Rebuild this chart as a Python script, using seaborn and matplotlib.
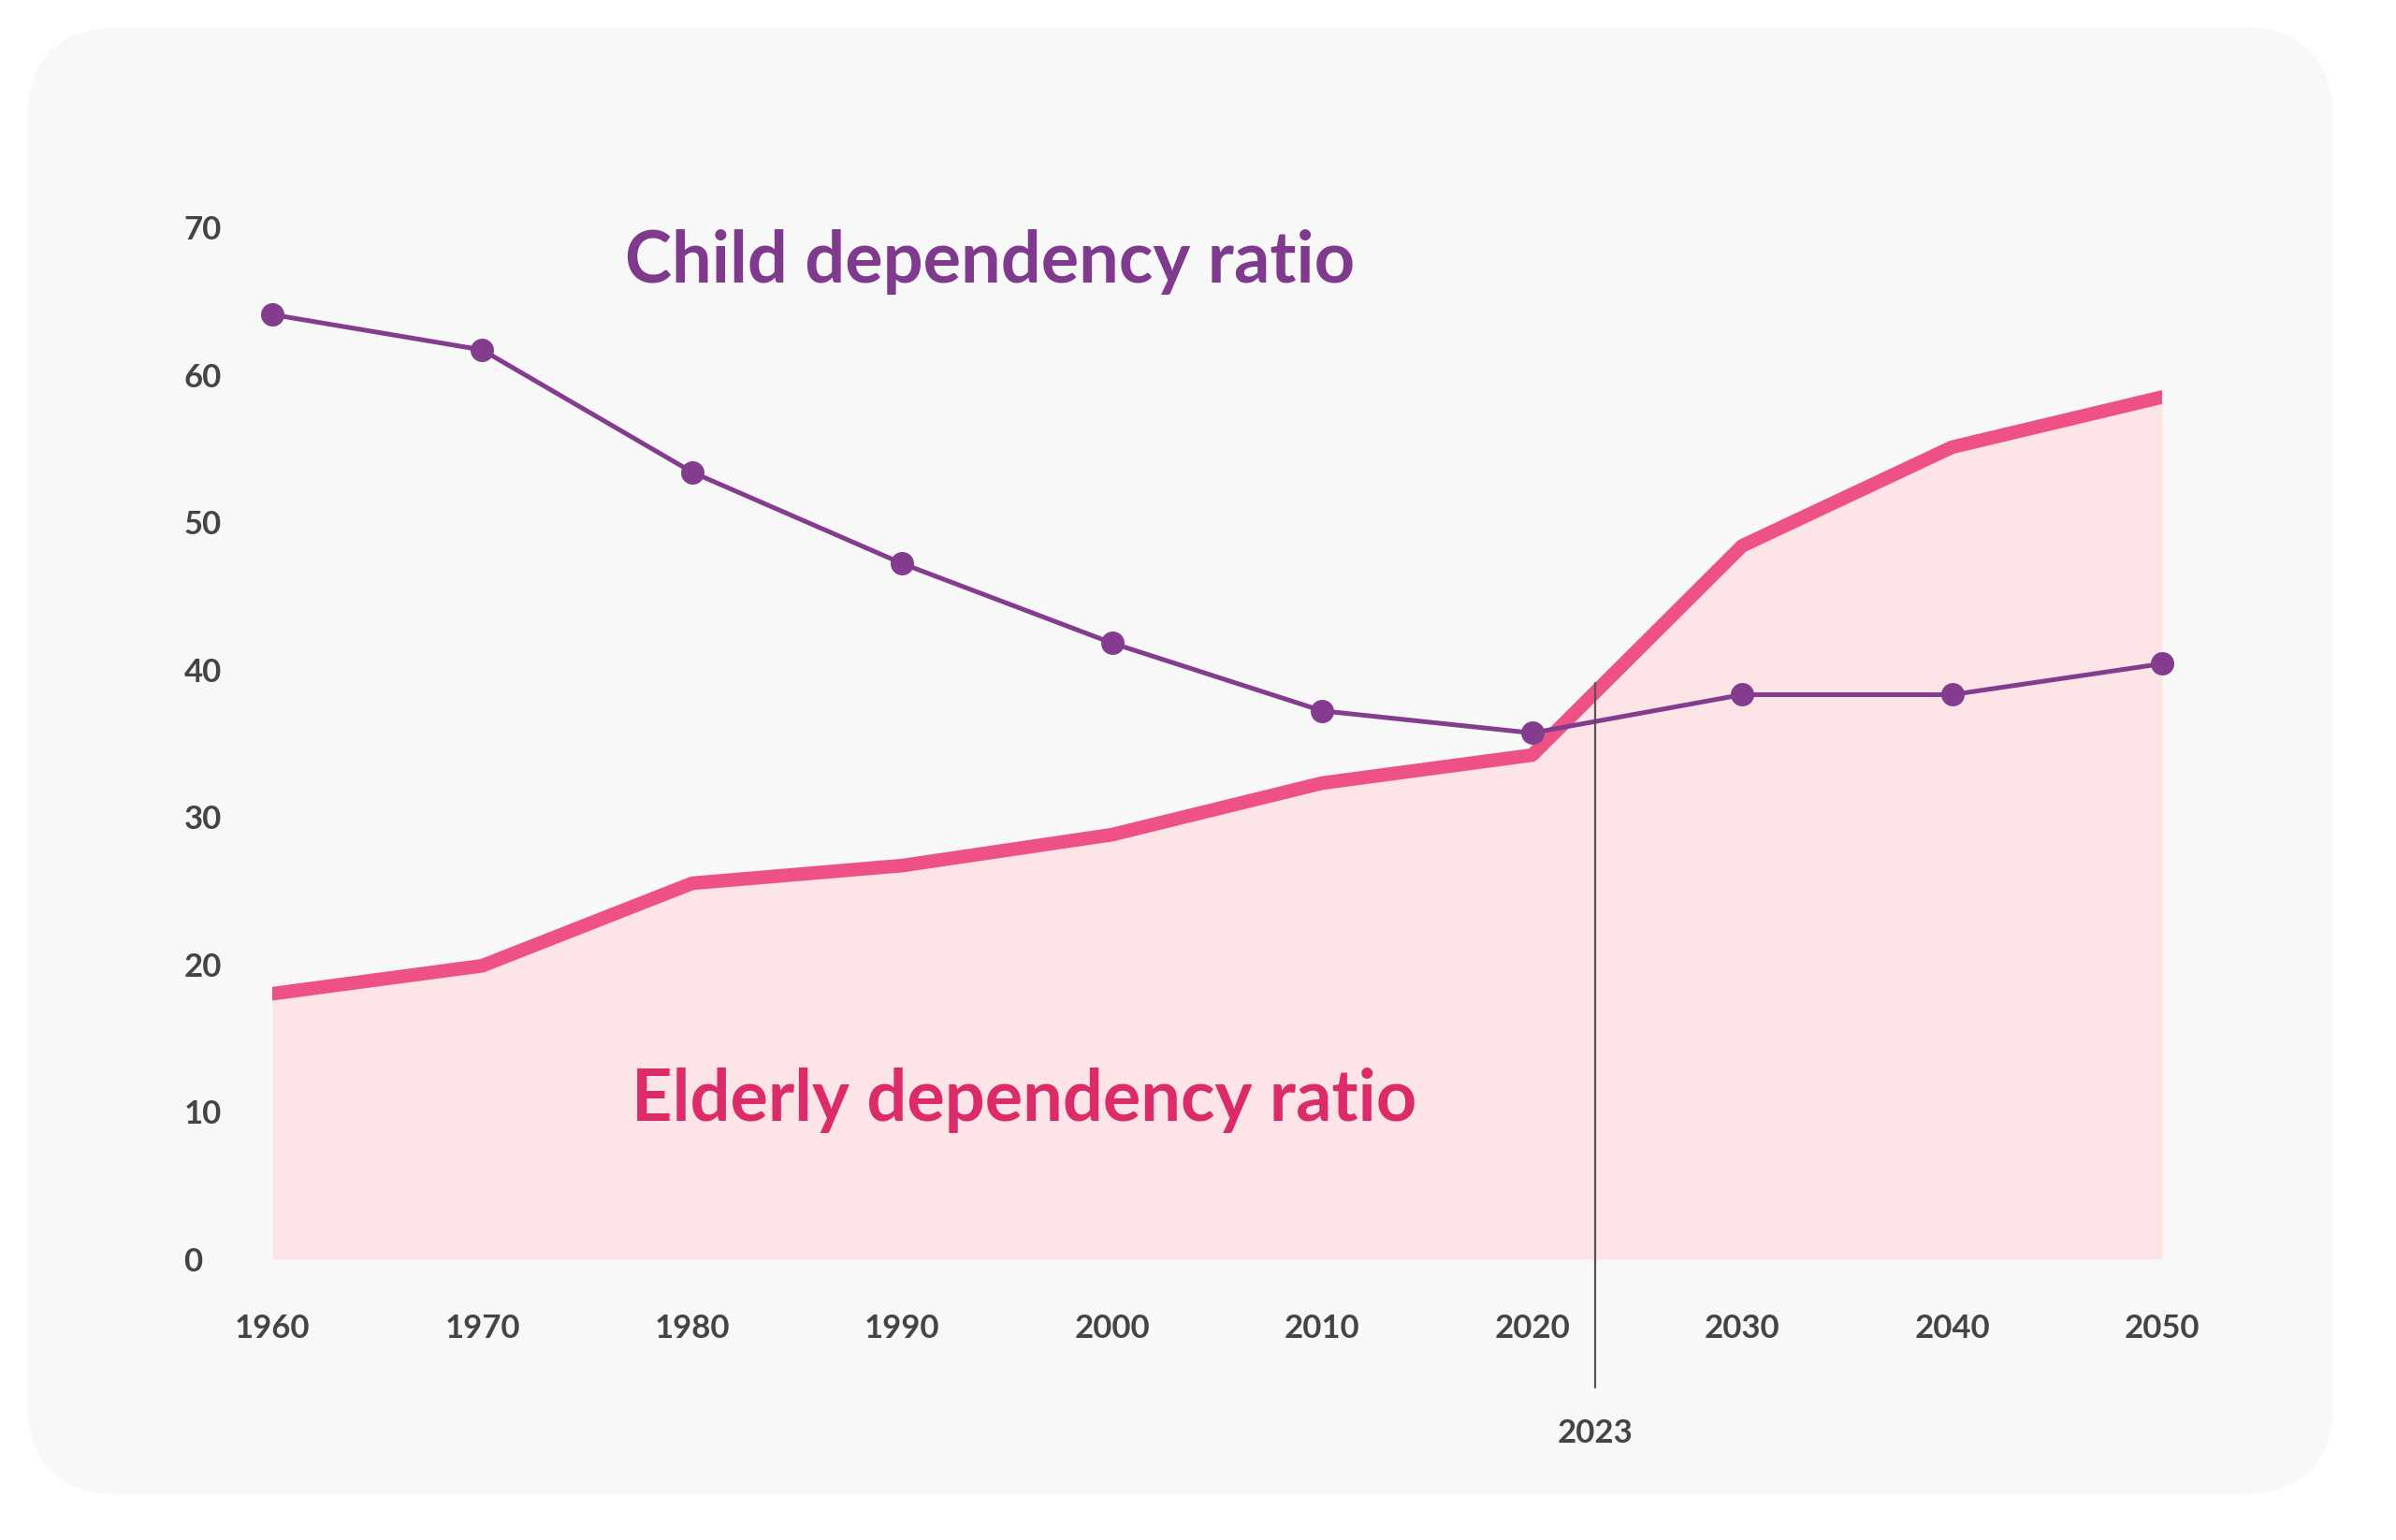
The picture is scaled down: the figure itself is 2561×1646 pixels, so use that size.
import matplotlib
matplotlib.use("Agg")
import matplotlib.pyplot as plt
from matplotlib.patches import FancyBboxPatch
import seaborn as sns
import pandas as pd

years = [1960, 1970, 1980, 1990, 2000, 2010, 2020, 2030, 2040, 2050]
child_ratio = [64.1, 61.7, 53.4, 47.2, 41.8, 37.2, 35.7, 38.3, 38.3, 40.4]
elderly_ratio = [18.0, 19.9, 25.5, 26.7, 28.8, 32.3, 34.2, 48.4, 55.1, 58.5]
y_ticks = [0, 10, 20, 30, 40, 50, 60, 70]
marker_year = 2023
child_label = "Child dependency ratio"
elderly_label = "Elderly dependency ratio"

df = pd.DataFrame({"year": years, "child": child_ratio, "elderly": elderly_ratio})

sns.set_theme(style="white")
plt.rcParams["font.family"] = ["Lato", "DejaVu Sans"]

W, H = 2561, 1646
fig = plt.figure(figsize=(W / 100, H / 100), dpi=100, facecolor="white")

# rounded background panel (pixel coords)
panel = FancyBboxPatch((29, 49), 2465, 1568,
                       boxstyle="round,pad=0,rounding_size=100",
                       transform=None, facecolor="#f8f8f8", edgecolor="none", zorder=0)
fig.add_artist(panel)

ax = fig.add_axes([291 / W, (H - 1345.6) / H, 2020 / W, (1345.6 - 243.3) / H])
ax.set_facecolor("none")

pink = "#ee5185"
purple = "#833c8e"

ax.fill_between(df["year"], 0, df["elderly"], color="#fde4e6", lw=0, zorder=1)
sns.lineplot(data=df, x="year", y="elderly", ax=ax, color=pink, lw=10.5,
             solid_capstyle="round", solid_joinstyle="round", zorder=3)
sns.lineplot(data=df, x="year", y="child", ax=ax, color=purple, lw=3.6,
             marker="o", markersize=18, markeredgewidth=0, zorder=4, clip_on=False)

ax.set_xlim(1960, 2050)
ax.set_ylim(0, 70)
ax.set_xticks(years)
ax.set_yticks(y_ticks)
ax.set_xlabel("")
ax.set_ylabel("")
for s in ax.spines.values():
    s.set_visible(False)
ax.tick_params(axis="both", length=0, labelsize=25, labelcolor="#444444")
ax.tick_params(axis="y", pad=68)
ax.tick_params(axis="x", pad=42)
for lab in ax.get_yticklabels():
    lab.set_ha("left")
    lab.set_fontweight("bold")
for lab in ax.get_xticklabels():
    lab.set_fontweight("bold")

# 2023 marker
ax.plot([marker_year, marker_year], [39.1, -8.7], color="#555555", lw=1.6,
        clip_on=False, zorder=5)
ax.text(marker_year, -12.5, str(marker_year), ha="center", va="baseline",
        fontsize=25, color="#444444", fontweight="bold")

ax.text(1976.8, 66.3, child_label, ha="left", va="baseline", fontsize=54.5,
        color="#7f3a8d", fontweight="bold")
ax.text(1977.1, 9.4, elderly_label, ha="left", va="baseline", fontsize=54.5,
        color="#db2b68", fontweight="bold")

fig.savefig("out.png", dpi=100, facecolor="white")
